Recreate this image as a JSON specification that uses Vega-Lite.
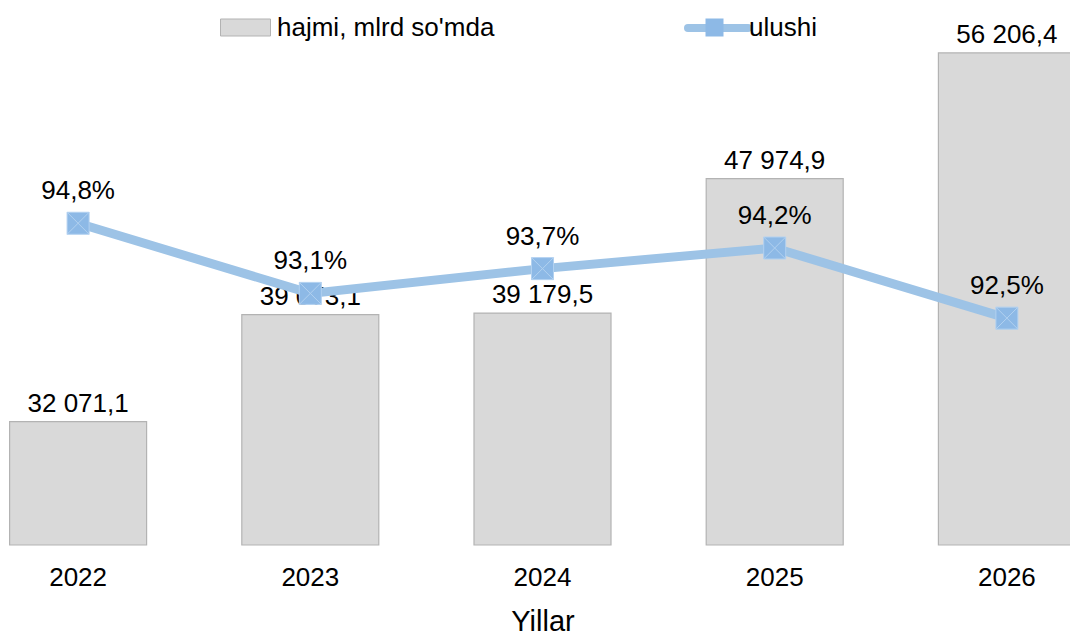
{
  "$schema": "https://vega.github.io/schema/vega-lite/v6.json",
  "width": 1070,
  "height": 495,
  "autosize": {"type": "none"},
  "padding": {"top": 50, "left": 0, "right": 0, "bottom": 90},
  "background": "white",
  "config": {
    "view": {"stroke": null},
    "font": "Liberation Sans",
    "locale": {"number": {"decimal": ",", "thousands": " ", "grouping": [3], "currency": ["", ""], "percent": "%"}}
  },
  "data": {
    "values": [
      {"yil": "2022", "hajmi": 32071.1, "ulushi": 0.948, "k1": "hajmi, mlrd so'mda", "k2": "ulushi"},
      {"yil": "2023", "hajmi": 39073.1, "ulushi": 0.931, "k1": "hajmi, mlrd so'mda", "k2": "ulushi"},
      {"yil": "2024", "hajmi": 39179.5, "ulushi": 0.937, "k1": "hajmi, mlrd so'mda", "k2": "ulushi"},
      {"yil": "2025", "hajmi": 47974.9, "ulushi": 0.942, "k1": "hajmi, mlrd so'mda", "k2": "ulushi"},
      {"yil": "2026", "hajmi": 56206.4, "ulushi": 0.925, "k1": "hajmi, mlrd so'mda", "k2": "ulushi"}
    ]
  },
  "encoding": {
    "x": {
      "field": "yil", "type": "nominal",
      "scale": {"type": "band", "range": [-38, 1123], "paddingInner": 0.41, "paddingOuter": 0.205},
      "axis": {
        "title": "Yillar", "labelAngle": 0, "domain": false, "ticks": false, "grid": false,
        "labelFontSize": 26, "labelColor": "#000000", "labelPadding": 19, "labelFont": "Liberation Sans",
        "titleFontSize": 29, "titleFontWeight": "normal", "titleColor": "#000000", "titlePadding": 17, "titleFont": "Liberation Sans"
      }
    }
  },
  "layer": [
    {
      "encoding": {
        "y": {"field": "hajmi", "type": "quantitative", "scale": {"domain": [24000, 56400], "clamp": true, "zero": false, "nice": false}, "axis": null}
      },
      "layer": [
        {
          "mark": {"type": "bar", "stroke": "#b3b3b3", "strokeWidth": 1.2},
          "encoding": {
            "fill": {
              "field": "k1", "type": "nominal",
              "scale": {"range": ["#d9d9d9"]},
              "legend": {
                "title": null, "orient": "none", "legendX": 220, "legendY": -48,
                "symbolType": "M-1,-0.34H1V0.34H-1Z", "symbolSize": 2500,
                "symbolFillColor": "#d9d9d9", "symbolStrokeColor": "#b3b3b3", "symbolStrokeWidth": 1,
                "labelFontSize": 26, "labelColor": "#000000", "labelFont": "Liberation Sans", "labelOffset": 6, "labelLimit": 400
              }
            }
          }
        },
        {
          "mark": {"type": "text", "fontSize": 26, "color": "#000000", "baseline": "alphabetic", "dy": -10, "font": "Liberation Sans"},
          "encoding": {"text": {"field": "hajmi", "type": "quantitative", "format": ",.1f"}}
        }
      ]
    },
    {
      "encoding": {
        "y": {"field": "ulushi", "type": "quantitative", "scale": {"domain": [0.87, 0.99], "zero": false, "nice": false}, "axis": null}
      },
      "layer": [
        {
          "mark": {"type": "line", "strokeWidth": 9, "strokeCap": "butt"},
          "encoding": {
            "stroke": {
              "field": "k2", "type": "nominal",
              "scale": {"range": ["#9dc3e6"]},
              "legend": {
                "title": null, "orient": "none", "legendX": 684, "legendY": -56,
                "symbolType": "stroke", "symbolSize": 3600, "symbolStrokeWidth": 8, "symbolStrokeColor": "#9dc3e6",
                "labelFontSize": 26, "labelColor": "#000000", "labelFont": "Liberation Sans", "labelOffset": -3,
                "encode": {"symbols": {"update": {"strokeCap": {"value": "round"}}}}
              }
            }
          }
        },
        {
          "mark": {"type": "point", "filled": true, "size": 484, "fill": "#8db9e6", "stroke": "#b2d1f0", "strokeWidth": 1, "opacity": 1},
          "encoding": {
            "shape": {
              "field": "k2", "type": "nominal",
              "scale": {"range": ["M-1,-1H1V1H-1Z M-1,-1L1,1 M1,-1L-1,1"]},
              "legend": {
                "title": null, "orient": "none", "legendX": 705, "legendY": -32,
                "symbolSize": 324, "symbolFillColor": "#8db9e6", "symbolStrokeColor": "#b2d1f0", "symbolStrokeWidth": 1,
                "labelExpr": "''", "labelFontSize": 1
              }
            }
          }
        },
        {
          "mark": {"type": "text", "fontSize": 26, "color": "#000000", "baseline": "alphabetic", "dy": -24, "font": "Liberation Sans"},
          "encoding": {"text": {"field": "ulushi", "type": "quantitative", "format": ".1%"}}
        }
      ]
    }
  ],
  "resolve": {"scale": {"y": "independent"}}
}
